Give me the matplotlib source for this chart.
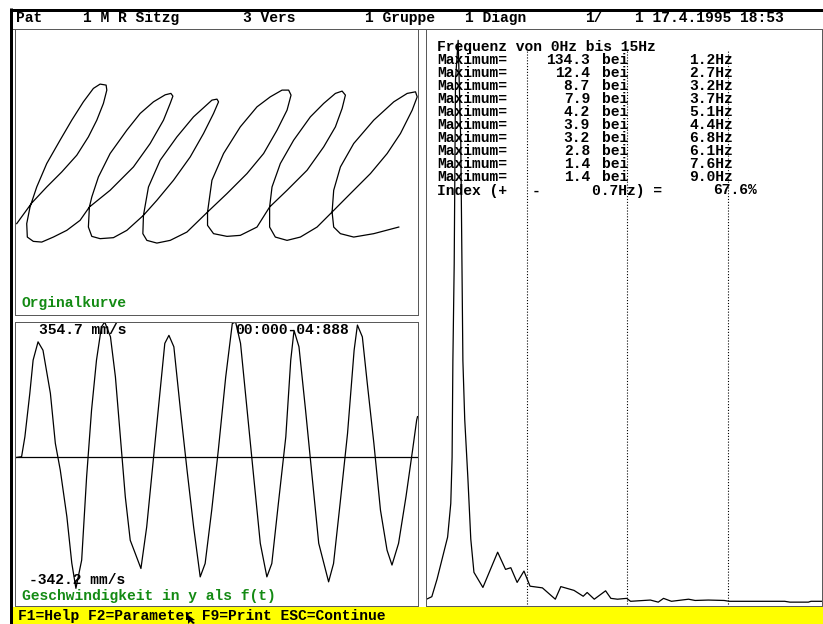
import matplotlib.pyplot as plt
from matplotlib.patches import Rectangle, Polygon

# ---------------------------------
# data
# ---------------------------------
header_items = ["Pat", "1 M R Sitzg", "3 Vers", "1 Gruppe", "1 Diagn", "1/", "1 17.4.1995 18:53"]

# pen trace of the handwriting sample (panel units, y up)
pen_x = [1.7, 16.7, 31.7, 46.7, 61.7, 73.3, 81.7, 88.3, 91.7, 91.0, 85.0, 78.3, 68.3, 56.7, 45.0, 31.7,
         21.7, 15.0, 11.7, 12.3, 18.3, 26.7, 38.3, 51.7, 65.0, 74.3,
         95.0, 118.3, 135.0, 148.3, 155.0, 157.7, 155.7, 150.0, 138.3, 125.0, 111.7, 95.0, 83.3, 76.7,
         74.3, 73.3, 76.7, 85.0, 98.3, 111.7, 128.3,
         141.7, 158.3, 175.0, 188.3, 198.3, 203.3, 201.7, 196.7, 178.3, 161.7, 145.0, 133.3, 128.3,
         127.7, 131.7, 141.7, 155.0, 171.7, 192.3,
         211.7, 231.7, 248.3, 261.7, 271.7, 275.7, 273.3, 266.7, 255.0, 241.7, 225.0, 208.3, 196.7, 192.3,
         192.3, 198.3, 211.7, 225.0, 241.7, 254.3,
         271.7, 291.7, 308.3, 320.0, 326.7, 330.0, 326.7, 320.0, 308.3, 295.0, 278.3, 265.0, 256.7, 254.3,
         254.3, 260.0, 271.7, 285.0, 301.7, 316.7,
         335.0, 355.0, 371.7, 385.0, 396.7, 401.7, 400.0, 391.7, 378.3, 358.3, 338.3, 325.0, 318.3, 316.7,
         318.3, 325.0, 338.3, 358.3, 383.3]
pen_y = [90.7, 111.3, 127.3, 142.3, 159.0, 177.3, 194.0, 210.7, 224.0, 229.0, 230.0, 225.7, 212.3, 194.0, 174.0, 150.7,
         127.3, 107.3, 90.7, 77.3, 73.0, 72.3, 77.3, 84.0, 94.0, 107.3,
         124.0, 147.3, 170.7, 194.0, 210.7, 218.0, 220.7, 219.3, 212.3, 200.7, 184.0, 160.7, 137.3, 117.3,
         107.3, 87.3, 78.0, 75.7, 76.7, 84.0, 99.0,
         114.0, 134.0, 157.3, 180.7, 200.7, 212.3, 215.0, 214.0, 197.3, 177.3, 154.0, 127.3, 99.0,
         80.7, 74.0, 71.3, 74.0, 82.3, 102.3,
         120.7, 140.7, 160.7, 184.0, 204.0, 219.0, 224.0, 224.0, 217.3, 207.3, 187.3, 160.7, 134.0, 102.3,
         89.0, 80.7, 78.0, 79.0, 87.3, 107.3,
         124.0, 144.0, 167.3, 187.3, 205.7, 219.0, 223.0, 220.7, 210.7, 197.3, 174.0, 150.7, 127.3, 107.3,
         87.3, 77.3, 74.0, 77.3, 87.3, 102.3,
         120.7, 140.7, 160.7, 180.7, 204.0, 217.3, 222.3, 220.7, 212.3, 194.0, 170.7, 147.3, 124.0, 102.3,
         87.3, 80.7, 77.3, 80.7, 87.3]

# velocity in y (mm/s) over time (s)
t_sec = [0.00, 0.06, 0.10, 0.16, 0.20, 0.26, 0.32, 0.41, 0.47, 0.53, 0.61, 0.67, 0.72, 0.79, 0.85, 0.91,
         0.97, 1.03, 1.07, 1.14, 1.20, 1.26, 1.32, 1.38, 1.44, 1.51, 1.58, 1.66, 1.74, 1.80, 1.85, 1.91,
         1.99, 2.07, 2.15, 2.23, 2.29, 2.37, 2.45, 2.54, 2.62, 2.66, 2.72, 2.80, 2.88, 2.96, 3.04, 3.10,
         3.18, 3.27, 3.33, 3.37, 3.43, 3.51, 3.59, 3.67, 3.79, 3.85, 3.93, 4.02, 4.10, 4.14, 4.20, 4.26,
         4.34, 4.42, 4.50, 4.56, 4.64, 4.73, 4.81, 4.86, 4.87]
vel_y = [0, 2, 54, 168, 255, 303, 281, 168, 37, -33, -155, -277, -343, -269, -51, 124,
         255, 342, 355, 316, 211, 54, -103, -217, -251, -291, -182, -7, 168, 299, 320, 290,
         124, -33, -182, -313, -278, -138, 19, 211, 351, 355, 299, 124, -51, -225, -313, -278,
         -120, 54, 255, 333, 290, 124, -51, -225, -326, -278, -120, 63, 281, 347, 316, 194,
         37, -138, -243, -282, -225, -103, 19, 98, 107]

# amplitude spectrum
freq_hz = [0.0, 0.2, 0.4, 0.6, 0.8, 0.92, 0.97, 1.0, 1.05, 1.1, 1.2, 1.3, 1.38, 1.45, 1.57, 1.68, 1.8, 2.14,
           2.7, 3.0, 3.2, 3.44, 3.7, 3.93, 4.4, 4.89, 5.1, 5.6, 5.95, 6.1, 6.37, 6.8, 7.0, 7.25, 7.6, 7.75,
           8.5, 8.8, 9.0, 9.3, 9.95, 10.2, 10.7, 11.3, 11.5, 13.6, 13.8, 14.5, 14.6, 15.0]
ampl = [1.2, 1.8, 6, 11, 16, 24, 35, 58, 81, 125, 134.3, 110, 58, 44, 30, 15.5, 7.6, 4.0,
        12.4, 8.3, 8.7, 5.2, 7.9, 4.3, 3.9, 1.2, 4.2, 3.3, 1.9, 2.8, 1.2, 3.2, 1.4, 1.2, 1.4, 0.7,
        1.0, 0.5, 1.4, 0.7, 1.2, 0.9, 1.0, 0.9, 0.7, 0.7, 0.5, 0.5, 0.7, 0.7]
grid_hz = [3.8, 7.6, 11.43]

peak_val = ["134.3", "12.4", "8.7", "7.9", "4.2", "3.9", "3.2", "2.8", "1.4", "1.4"]
peak_hz = ["1.2Hz", "2.7Hz", "3.2Hz", "3.7Hz", "5.1Hz", "4.4Hz", "6.8Hz", "6.1Hz", "7.6Hz", "9.0Hz"]

# ---------------------------------
# screen layout (pixels)
# ---------------------------------
W, H = 823, 624
fig = plt.figure(figsize=(W / 100, H / 100), dpi=100)
fig.patch.set_facecolor('white')

screen = fig.add_axes([0, 0, 1, 1])
screen.set_xlim(0, W)
screen.set_ylim(H, 0)
screen.axis('off')

px = 72 / 100  # points per pixel
screen.plot([10, W], [9.5, 9.5], color='black', lw=3 * px, solid_capstyle='butt')
screen.plot([11.5, 11.5], [8, H], color='black', lw=3 * px, solid_capstyle='butt')
screen.plot([13, W], [28.5, 28.5], color='#5a5a5a', lw=1 * px)
screen.add_patch(Rectangle((12, 607), W - 12, H - 607, color='#ffff00', lw=0))


def panel(x0, y0, x1, y1):
    ax = fig.add_axes([x0 / W, 1 - y1 / H, (x1 - x0) / W, (y1 - y0) / H])
    for s in ax.spines.values():
        s.set_color('#5a5a5a')
        s.set_linewidth(1 * px)
    ax.set_xticks([])
    ax.set_yticks([])
    return ax


line_kw = dict(color='black', lw=0.9)

# handwriting
ax1 = panel(15, 29, 417.5, 314.5)
ax1.plot(pen_x, pen_y, **line_kw)
ax1.set_xlim(0, 402)
ax1.set_ylim(0, 285)

# velocity
ax2 = panel(15, 322, 417.5, 605.5)
ax2.axhline(0, color='black', lw=0.9)
ax2.plot(t_sec, vel_y, **line_kw)
ax2.set_xlim(-0.02, 4.87)
ax2.set_ylim(-388, 355)

# spectrum
ax3 = panel(425.5, 29, 821.5, 605.5)
ax3.vlines(grid_hz, 0, 132, colors='black', lw=0.8, linestyles=(0, (1, 1.6)))
ax3.plot(freq_hz, ampl, **line_kw)
ax3.set_xlim(-0.04, 15.0)
ax3.set_ylim(-0.3, 137)

# ---------------------------------
# text layer
# ---------------------------------
top = fig.add_axes([0, 0, 1, 1])
top.set_xlim(0, W)
top.set_ylim(H, 0)
top.axis('off')

font = dict(family='Liberation Mono', weight='bold', size=10.5, va='baseline')
green = '#138a13'

for x, s in zip([16, 83, 243, 365, 465, 585, 635], header_items):
    top.text(x, 22, s, ha='left', **font)

top.text(437, 50.5, "Frequenz von 0Hz bis 15Hz", ha='left', **font)
for i, (v, f) in enumerate(zip(peak_val, peak_hz)):
    yb = 63.5 + 13.1 * i
    top.text(437, yb, "Maximum=", ha='left', **font)
    top.text(590, yb, v, ha='right', **font)
    top.text(602, yb, "bei", ha='left', **font)
    top.text(733, yb, f, ha='right', **font)
top.text(437, 194.5, "Index (+", ha='left', **font)
top.text(532, 194.5, "-", ha='left', **font)
top.text(592, 194.5, "0.7Hz) =", ha='left', **font)
top.text(757, 194.5, "67.6%", ha='right', **font)

top.text(22, 307.5, "Orginalkurve", ha='left', color=green, **font)
top.text(39, 334.5, "354.7 mm/s", ha='left', **font)
top.text(235, 334.5, "00:000-04:888", ha='left', **font)
top.text(29, 584, "-342.2 mm/s", ha='left', **font)
top.text(22, 600, "Geschwindigkeit in y als f(t)", ha='left', color=green, **font)
top.text(18, 620, "F1=Help F2=Parameter F9=Print ESC=Continue", ha='left', **font)

# mouse pointer
top.add_patch(Polygon([(188, 615), (188, 624), (190.5, 621.5), (193, 624), (195, 623), (192, 620.5), (195, 620)],
                      closed=True, color='black', lw=0))

fig.savefig("out.png", dpi=100)
